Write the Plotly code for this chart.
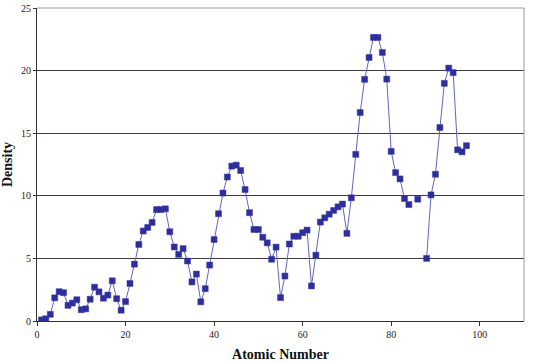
import plotly.graph_objects as go

atomic_number = list(range(1, 98))
density = [
    0.09, 0.18, 0.53, 1.85, 2.34, 2.26, 1.25, 1.43, 1.70, 0.90,
    0.97, 1.74, 2.70, 2.33, 1.82, 2.07, 3.21, 1.78, 0.86, 1.55,
    3.00, 4.54, 6.11, 7.19, 7.47, 7.87, 8.90, 8.90, 8.96, 7.13,
    5.91, 5.32, 5.78, 4.79, 3.12, 3.75, 1.53, 2.58, 4.47, 6.51,
    8.57, 10.22, 11.50, 12.37, 12.45, 12.02, 10.50, 8.65, 7.31, 7.31,
    6.69, 6.24, 4.93, 5.90, 1.87, 3.59, 6.15, 6.77, 6.77, 7.05,
    7.26, 2.80, 5.26, 7.90, 8.24, 8.53, 8.83, 9.12, 9.34, 7.00,
    9.84, 13.31, 16.65, 19.30, 21.05, 22.65, 22.65, 21.45, 19.32, 13.55,
    11.85, 11.35, 9.78, 9.30, None, 9.73, None, 5.00, 10.07, 11.72,
    15.45, 18.98, 20.20, 19.84, 13.67, 13.51, 14.00,
]
x_ticks = [0, 20, 40, 60, 80, 100]
y_ticks = [0, 5, 10, 15, 20, 25]

serif = "Liberation Serif, Times New Roman, serif"

fig = go.Figure()
fig.add_trace(go.Scatter(
    x=atomic_number, y=density, mode="lines+markers",
    line=dict(color="#6464c0", width=1),
    marker=dict(symbol="square", size=6, color="#2d2d9c",
                line=dict(color="#3a3aa8", width=0.5)),
    connectgaps=False, showlegend=False,
))

fig.update_layout(
    width=535, height=362,
    margin=dict(l=37, r=11, t=8, b=41),
    paper_bgcolor="white", plot_bgcolor="white",
    font=dict(family=serif, color="#222222", size=10),
)
fig.update_xaxes(
    range=[0, 110], tickvals=x_ticks, ticks="outside", ticklen=4,
    tickcolor="#333333", showline=True, linecolor="#333333", linewidth=1,
    showgrid=False, zeroline=False, automargin=False,
    tickfont=dict(family=serif, size=10, color="#222222"),
    title=dict(text="<b>Atomic Number</b>", standoff=10,
               font=dict(family=serif, size=14, color="#111111")),
)
fig.update_yaxes(
    range=[0, 25], tickvals=y_ticks, ticks="outside", ticklen=3,
    tickcolor="#333333", showline=True, linecolor="#333333", linewidth=1,
    showgrid=True, gridcolor="#3c3c3c", gridwidth=1, zeroline=False,
    automargin=False,
    tickfont=dict(family=serif, size=10, color="#222222"),
    title=dict(text="<b>Density</b>", standoff=8,
               font=dict(family=serif, size=14, color="#111111")),
)
# gray plot-area border on top and right
fig.add_shape(type="line", xref="paper", yref="paper", x0=0, x1=1, y0=1, y1=1,
              line=dict(color="#9a9a9a", width=1))
fig.add_shape(type="line", xref="paper", yref="paper", x0=1, x1=1, y0=0, y1=1,
              line=dict(color="#9a9a9a", width=1))

fig.write_html("out.html")
